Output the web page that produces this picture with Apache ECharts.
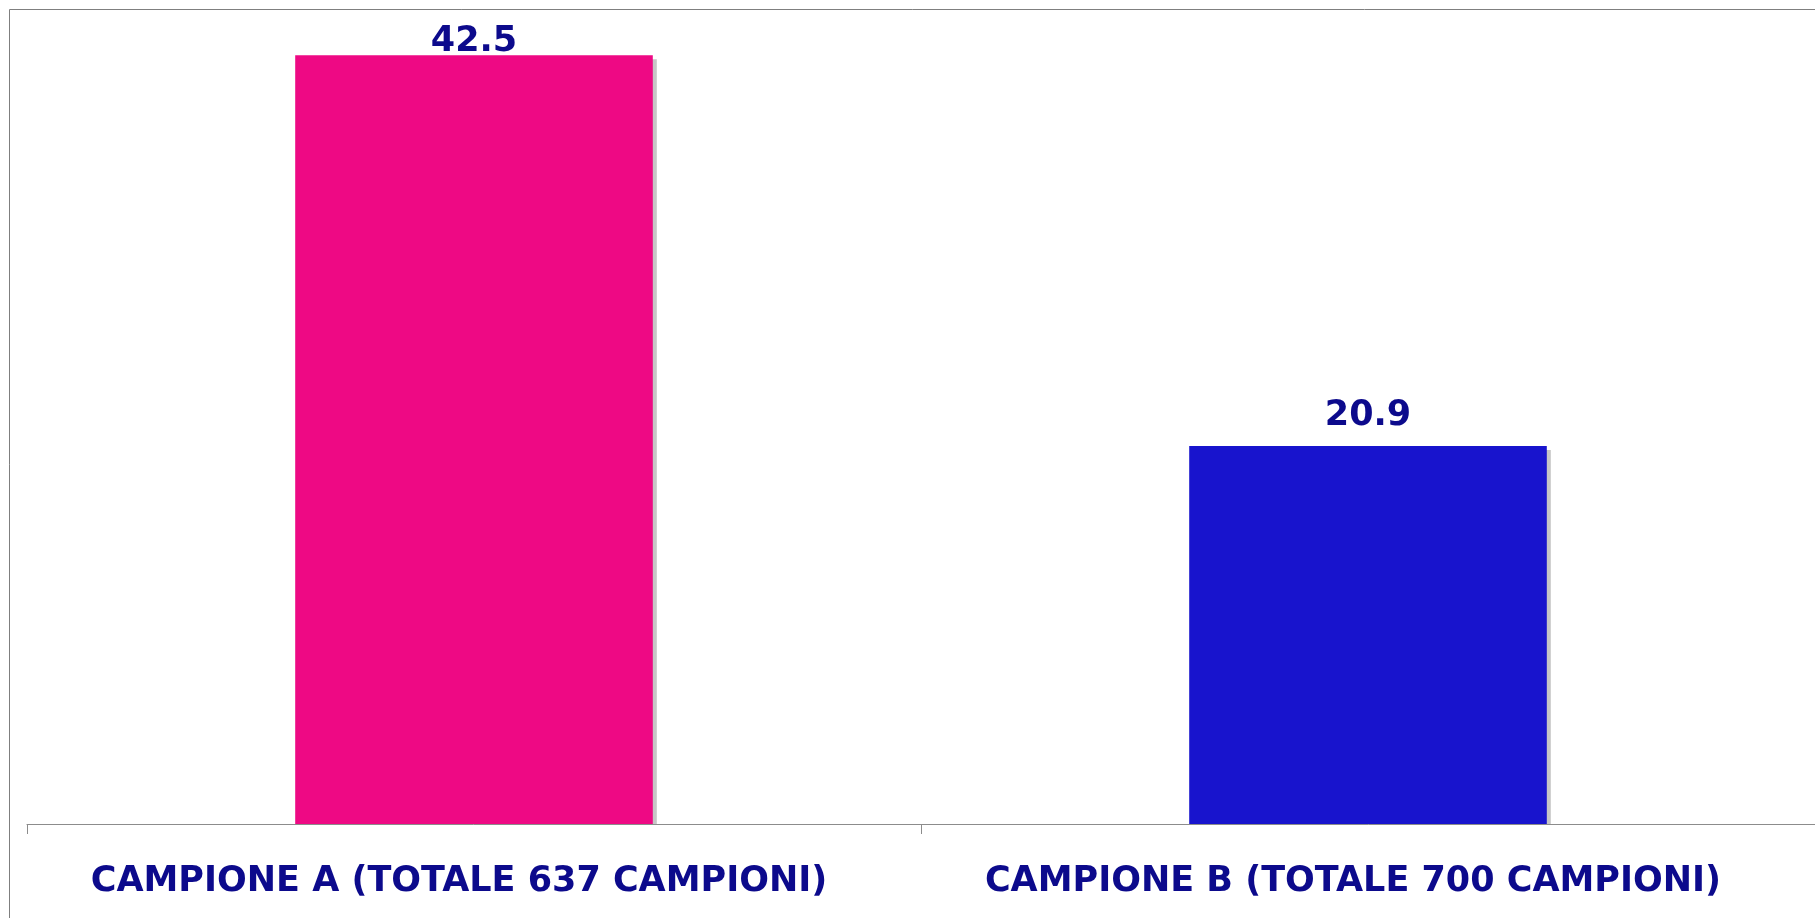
<!DOCTYPE html>
<html>
<head>
<meta charset="utf-8">
<script src="https://cdn.jsdelivr.net/npm/echarts@6/dist/echarts.min.js"></script>
<style>
  html, body { margin: 0; padding: 0; background: #fff; }
  #chart { width: 1815px; height: 918px; }
</style>
</head>
<body>
<div id="chart"></div>
<script>
// categorie e valori
const categories = [
  "CAMPIONE A (TOTALE 637 CAMPIONI)",
  "CAMPIONE B (TOTALE 700 CAMPIONI)",
];
const values = [42.5, 20.9];
const barColors = ["#ee0984", "#1814cd"];
const labelGap = [-4, 13]; // distanza etichetta sopra la barra

const chart = echarts.init(document.getElementById("chart"));

const option = {
  animation: false,
  backgroundColor: "#fff",
  graphic: [
    {
      type: "rect",
      shape: { x: 9.5, y: 9.5, width: 2000, height: 2000 },
      style: { fill: "none", stroke: "#7f7f7f", lineWidth: 1 },
      silent: true,
    },
  ],
  grid: {
    left: 27,
    right: 0,
    top: 10,
    bottom: 94,
    containLabel: false,
  },
  xAxis: {
    type: "category",
    data: categories,
    axisLine: { lineStyle: { color: "#8c8c8c", width: 1 } },
    axisTick: { show: true, interval: 0, length: 10, lineStyle: { color: "#8c8c8c" } },
    axisLabel: {
      interval: 0,
      hideOverlap: false,
      color: "#0c0a8c",
      fontFamily: "DejaVu Sans",
      fontWeight: "bold",
      fontSize: 35,
      margin: 40,
      padding: [0, 30, 0, 0],
    },
  },
  yAxis: {
    type: "value",
    min: 0,
    max: 45,
    show: false,
    splitLine: { show: false },
  },
  series: [
    {
      // ombra grigia dietro le barre
      type: "custom",
      z: 1,
      silent: true,
      data: values.map((v, i) => [i, v]),
      renderItem: (params, api) => {
        const top = api.coord([api.value(0), api.value(1)]);
        const base = api.coord([api.value(0), 0]);
        const w = api.size([1, 0])[0] * 0.4;
        return {
          type: "rect",
          shape: {
            x: top[0] - w / 2 + 4,
            y: top[1] + 4,
            width: w,
            height: base[1] - top[1] - 4,
          },
          style: { fill: "#c6c6c6" },
        };
      },
    },
    {
      type: "bar",
      z: 2,
      barWidth: "40%",
      data: values.map((v, i) => ({
        value: v,
        itemStyle: { color: barColors[i] },
        label: { distance: labelGap[i] },
      })),
      label: {
        show: true,
        position: "top",
        color: "#0c0a8c",
        fontFamily: "DejaVu Sans",
        fontWeight: "bold",
        fontSize: 35,
        formatter: (p) => p.value.toFixed(1),
      },
    },
  ],
};

chart.setOption(option);
</script>
</body>
</html>
